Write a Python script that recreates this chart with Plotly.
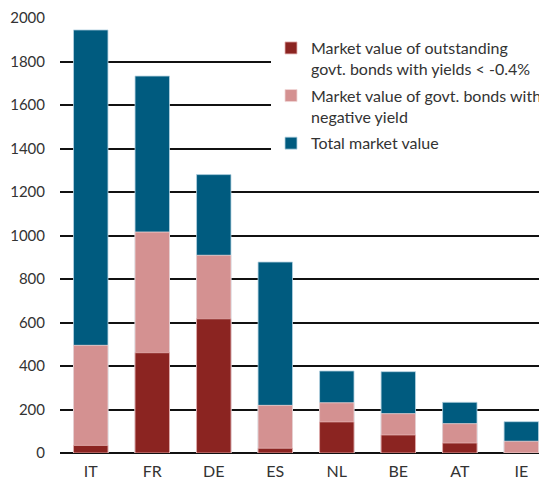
import plotly.graph_objects as go

countries = ["IT", "FR", "DE", "ES", "NL", "BE", "AT", "IE"]
total_value = [1945, 1733, 1280, 878, 377, 374, 233, 144]
negative_yield = [495, 1016, 909, 219, 231, 181, 135, 54]
below_minus04 = [35, 461, 617, 22, 143, 83, 46, 0]

y_ticks = [0, 200, 400, 600, 800, 1000, 1200, 1400, 1600, 1800, 2000]

BLUE = "#005b7f"
PINK = "#d49191"
RED = "#8b2421"

fig = go.Figure()
fig.add_trace(go.Bar(x=countries, y=total_value, name="Total market value",
                     legendgroup="c", legendrank=3,
                     marker=dict(color=BLUE, line=dict(color="rgba(180,210,225,0.8)", width=1)),
                     width=0.56))
fig.add_trace(go.Bar(x=countries, y=negative_yield,
                     name="Market value of govt. bonds with<br>negative yield",
                     legendgroup="b", legendrank=2,
                     marker=dict(color=PINK, line=dict(color="rgba(240,215,215,0.8)", width=1)),
                     width=0.56))
fig.add_trace(go.Bar(x=countries, y=below_minus04,
                     name="Market value of outstanding<br>govt. bonds with yields < -0.4%",
                     legendgroup="a", legendrank=1,
                     marker=dict(color=RED, line=dict(color="rgba(230,180,180,0.8)", width=1)),
                     width=0.56))

# page body has an 8px margin, so the figure is shrunk by 8px on each axis
fig.update_layout(
    width=539, height=472,
    barmode="overlay",
    paper_bgcolor="white", plot_bgcolor="white",
    margin=dict(l=52, r=0, t=10, b=27),
    font=dict(family="Lato", size=15, color="#333333"),
    showlegend=True,
    legend=dict(traceorder="grouped", x=0.439, y=0.97, xanchor="left", yanchor="top",
                bgcolor="white", font=dict(size=16, color="#333333"), valign="top",
                tracegroupgap=3, itemwidth=30),
    xaxis=dict(range=[-0.5, 7.32], showgrid=False, showline=False, ticks="",
               ticklabelstandoff=7, tickfont=dict(size=16), automargin=False),
    yaxis=dict(range=[0, 2000], tickvals=y_ticks, showgrid=True, gridcolor="#111111",
               gridwidth=2, zeroline=True, zerolinecolor="#111111", zerolinewidth=2,
               showline=False, ticks="", ticklabelstandoff=14, tickfont=dict(size=15),
               automargin=False),
)

fig.write_html("out.html")
